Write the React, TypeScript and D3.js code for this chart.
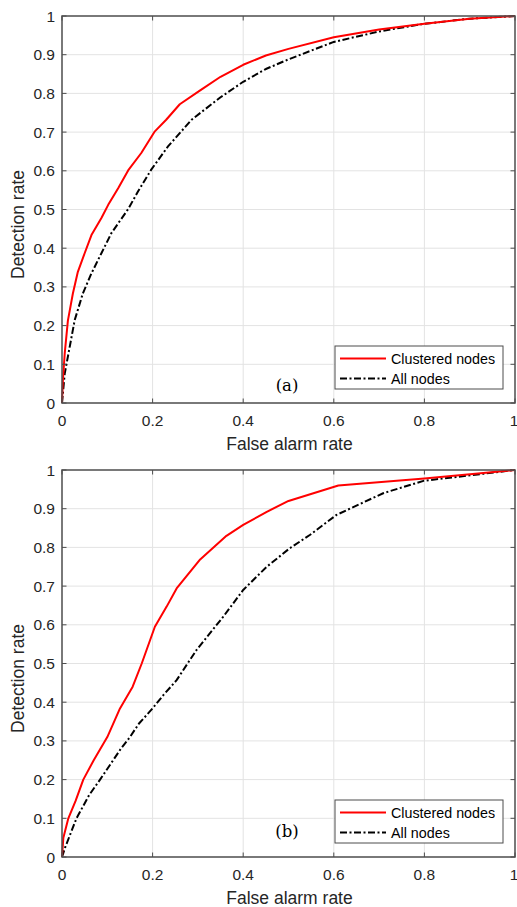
import React, { useEffect, useRef } from 'react';
import * as d3 from 'd3';

// ROC curves, [false alarm, detection]
const clusteredA: [number, number][] = [
  [0, 0], [0.002, 0.06], [0.006, 0.128], [0.013, 0.213], [0.024, 0.283], [0.035, 0.339],
  [0.05, 0.387], [0.065, 0.434], [0.087, 0.478], [0.102, 0.512], [0.124, 0.555], [0.146, 0.601],
  [0.175, 0.646], [0.205, 0.702], [0.23, 0.732], [0.26, 0.772], [0.305, 0.808], [0.35, 0.843],
  [0.4, 0.874], [0.45, 0.898], [0.5, 0.915], [0.6, 0.945], [0.7, 0.965], [0.8, 0.98],
  [0.9, 0.993], [1, 1],
];
const allA: [number, number][] = [
  [0, 0], [0.006, 0.076], [0.017, 0.145], [0.028, 0.214], [0.046, 0.283], [0.065, 0.335],
  [0.087, 0.387], [0.109, 0.439], [0.146, 0.501], [0.168, 0.547], [0.197, 0.603], [0.234, 0.663],
  [0.286, 0.732], [0.35, 0.79], [0.4, 0.83], [0.45, 0.863], [0.5, 0.888], [0.6, 0.933],
  [0.7, 0.96], [0.8, 0.98], [0.9, 0.993], [1, 1],
];
const clusteredB: [number, number][] = [
  [0, 0], [0.003, 0.05], [0.014, 0.1], [0.03, 0.145], [0.047, 0.2], [0.07, 0.25], [0.1, 0.31],
  [0.128, 0.384], [0.156, 0.44], [0.176, 0.5], [0.205, 0.595], [0.231, 0.647], [0.253, 0.694],
  [0.305, 0.769], [0.363, 0.83], [0.4, 0.858], [0.452, 0.892], [0.5, 0.92], [0.61, 0.96],
  [0.8, 0.978], [1, 1],
];
const allB: [number, number][] = [
  [0, 0], [0.007, 0.025], [0.032, 0.1], [0.06, 0.16], [0.084, 0.2], [0.11, 0.245], [0.13, 0.28],
  [0.15, 0.31], [0.17, 0.345], [0.2, 0.384], [0.225, 0.42], [0.253, 0.457], [0.297, 0.535],
  [0.356, 0.621], [0.4, 0.69], [0.452, 0.75], [0.503, 0.798], [0.547, 0.832], [0.606, 0.884],
  [0.709, 0.94], [0.798, 0.972], [1, 1],
];

const seriesNames = ['Clustered nodes', 'All nodes'];
const panelLabels = ['(a)', '(b)'];
const xTicks = [0, 0.2, 0.4, 0.6, 0.8, 1];
const yTicks = [0, 0.1, 0.2, 0.3, 0.4, 0.5, 0.6, 0.7, 0.8, 0.9, 1];

const W = 517;
const H = 907;
const font = '"Liberation Sans", Arial, sans-serif';
const axisColor = '#4d4d4d';
const textColor = '#262626';
const dash = '7,2.5,2,2.5';

const App = () => {
  const svgRef = useRef<SVGSVGElement>(null);

  useEffect(() => {
    const svg = d3.select(svgRef.current);
    svg.selectAll('*').remove();

    const panels = [
      { top: 16, data: [clusteredA, allA], label: panelLabels[0], labelY: 391 },
      { top: 470, data: [clusteredB, allB], label: panelLabels[1], labelY: 837 },
    ];
    const left = 62;
    const right = 515;
    const ph = 387;

    panels.forEach((p) => {
      const x = d3.scaleLinear().domain([0, 1]).range([left, right]);
      const y = d3.scaleLinear().domain([0, 1]).range([p.top + ph, p.top]);
      const g = svg.append('g');

      // grid
      g.selectAll('.gx').data(xTicks.slice(1, -1)).enter().append('line')
        .attr('x1', d => x(d)).attr('x2', d => x(d))
        .attr('y1', p.top).attr('y2', p.top + ph)
        .attr('stroke', '#e3e3e3').attr('stroke-width', 1);
      g.selectAll('.gy').data(yTicks.slice(1, -1)).enter().append('line')
        .attr('y1', d => y(d)).attr('y2', d => y(d))
        .attr('x1', left).attr('x2', right)
        .attr('stroke', '#e3e3e3').attr('stroke-width', 1);

      // curves
      const line = d3.line<[number, number]>()
        .x(d => x(d[0])).y(d => y(d[1]));
      g.append('path').datum(p.data[1]).attr('d', line)
        .attr('fill', 'none').attr('stroke', '#000').attr('stroke-width', 2)
        .attr('stroke-linejoin', 'round').attr('stroke-dasharray', dash);
      g.append('path').datum(p.data[0]).attr('d', line)
        .attr('fill', 'none').attr('stroke', '#ff0000').attr('stroke-width', 2)
        .attr('stroke-linejoin', 'round');

      // box
      g.append('rect')
        .attr('x', left).attr('y', p.top).attr('width', right - left).attr('height', ph)
        .attr('fill', 'none').attr('stroke', axisColor).attr('stroke-width', 1.5);

      // ticks on all sides, inward
      const tl = 4.5;
      xTicks.forEach(t => {
        g.append('line').attr('x1', x(t)).attr('x2', x(t))
          .attr('y1', p.top + ph).attr('y2', p.top + ph - tl).attr('stroke', axisColor);
        g.append('line').attr('x1', x(t)).attr('x2', x(t))
          .attr('y1', p.top).attr('y2', p.top + tl).attr('stroke', axisColor);
        g.append('text').attr('x', t === 1 ? x(t) - 1 : x(t)).attr('y', p.top + ph + 23)
          .attr('text-anchor', 'middle').attr('font-family', font).attr('font-size', 15.5)
          .attr('fill', textColor).text(d3.format('~g')(t));
      });
      yTicks.forEach(t => {
        g.append('line').attr('x1', left).attr('x2', left + tl)
          .attr('y1', y(t)).attr('y2', y(t)).attr('stroke', axisColor);
        g.append('line').attr('x1', right).attr('x2', right - tl)
          .attr('y1', y(t)).attr('y2', y(t)).attr('stroke', axisColor);
        g.append('text').attr('x', left - 7).attr('y', y(t) + 5.5)
          .attr('text-anchor', 'end').attr('font-family', font).attr('font-size', 15.5)
          .attr('fill', textColor).text(d3.format('~g')(t));
      });

      // axis titles
      g.append('text').attr('x', (left + right) / 2 + 1).attr('y', p.top + ph + 47)
        .attr('text-anchor', 'middle').attr('font-family', font).attr('font-size', 17.5)
        .attr('fill', textColor).text('False alarm rate');
      g.append('text')
        .attr('transform', `translate(24,${p.top + ph / 2 + 15}) rotate(-90)`)
        .attr('text-anchor', 'middle').attr('font-family', font).attr('font-size', 17.5)
        .attr('fill', textColor).text('Detection rate');

      // panel label
      g.append('text').attr('x', 287).attr('y', p.labelY)
        .attr('text-anchor', 'middle').attr('font-family', '"DejaVu Serif", "Liberation Serif", serif')
        .attr('font-size', 16.5).attr('fill', '#000').text(p.label);

      // legend
      const lx = 335;
      const ly = p.top + ph - 57;
      const leg = g.append('g');
      leg.append('rect').attr('x', lx).attr('y', ly).attr('width', 168).attr('height', 43)
        .attr('fill', '#fff').attr('stroke', axisColor).attr('stroke-width', 1);
      seriesNames.forEach((name, i) => {
        const yy = ly + 12.5 + i * 20;
        leg.append('line').attr('x1', lx + 5).attr('x2', lx + 51)
          .attr('y1', yy).attr('y2', yy)
          .attr('stroke', i === 0 ? '#ff0000' : '#000').attr('stroke-width', 2)
          .attr('stroke-dasharray', i === 0 ? null : dash);
        leg.append('text').attr('x', lx + 56).attr('y', yy + 5)
          .attr('font-family', font).attr('font-size', 14.3).attr('fill', '#000').text(name);
      });
    });
  }, []);

  return (
    <div style={{ position: 'absolute', left: 0, top: 0 }}>
      <svg ref={svgRef} width={W} height={H} style={{ display: 'block', background: '#fff' }} />
    </div>
  );
};

export default App;
